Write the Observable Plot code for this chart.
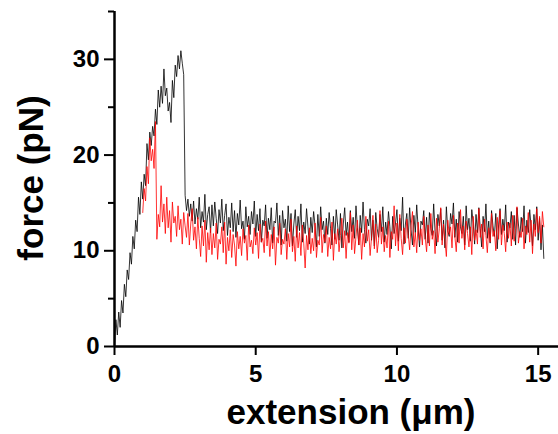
<!DOCTYPE html>
<html>
<head>
<meta charset="utf-8">
<script src="https://cdn.jsdelivr.net/npm/d3@7"></script>
<script src="https://cdn.jsdelivr.net/npm/@observablehq/plot@0.6"></script>
<style>
  html, body { margin: 0; padding: 0; background: #fff; }
  #chart { width: 558px; height: 434px; }
</style>
</head>
<body>
<div id="chart"></div>
<script>
// ---- data ----
const sampleStep = 0.05;      // µm between samples
const blackStartX = 0.0;
const redStartX = 1.0;

const blackForce = [
  0.0, 2.8, 1.2, 3.6, 2.0, 4.8, 3.5, 6.5, 5.2, 8.0,
  7.0, 9.8, 8.6, 11.5, 10.2, 13.2, 12.0, 15.6, 13.8, 17.2,
  15.4, 18.0, 16.8, 21.2, 19.5, 22.4, 21.0, 23.0, 22.0, 24.8,
  23.2, 26.8, 25.0, 27.2, 25.4, 29.0, 26.2, 27.0, 24.6, 25.5,
  23.4, 27.8, 26.0, 29.4, 28.2, 30.4, 29.0, 30.9, 29.6, 28.4,
  15.8, 14.2, 15.4, 13.6, 14.9, 13.1, 15.2, 12.8, 14.4, 13.3,
  15.6, 12.4, 14.1, 13.0, 15.9, 12.2, 13.8, 14.6, 11.9, 14.8,
  12.6, 15.1, 13.4, 11.8, 14.3, 12.9, 15.4, 12.1, 13.7, 14.9,
  11.6, 13.5, 12.4, 15.0, 12.0, 14.2, 11.4, 13.9, 12.7, 15.3,
  12.3, 13.1, 11.2, 14.6, 12.5, 13.6, 11.7, 14.1, 12.8, 15.2,
  11.5, 13.8, 12.1, 14.4, 10.9, 13.2, 12.6, 14.8, 11.3, 13.4,
  12.2, 14.5, 10.8, 13.1, 12.9, 15.0, 11.6, 13.7, 10.6, 14.2,
  12.4, 13.3, 11.0, 14.7, 12.0, 13.9, 10.5, 12.8, 14.3, 11.4,
  13.6, 12.1, 14.9, 10.9, 13.0, 11.8, 14.4, 12.5, 10.7, 13.5,
  11.9, 14.1, 12.6, 10.4, 13.8, 11.5, 14.6, 12.2, 13.1, 10.8,
  13.4, 11.7, 14.0, 12.3, 10.6, 13.6, 11.2, 14.3, 12.7, 11.1,
  13.9, 10.3, 12.8, 14.5, 11.6, 13.0, 10.9, 14.2, 12.0, 13.5,
  11.3, 14.7, 12.4, 10.6, 13.7, 11.9, 15.1, 12.2, 10.8, 13.3,
  12.6, 14.4, 11.1, 13.2, 10.5, 14.0, 12.3, 11.4, 13.8, 12.0,
  14.6, 10.9, 13.0, 11.7, 14.1, 12.5, 10.2, 13.6, 11.8, 12.9,
  14.3, 11.0, 13.4, 12.1, 15.6, 10.7, 12.8, 13.9, 11.3, 14.5,
  12.2, 10.6, 13.7, 11.9, 14.8, 12.4, 10.4, 13.1, 12.7, 14.2,
  11.2, 13.5, 10.8, 14.0, 12.3, 11.6, 14.9, 12.0, 10.5, 13.8,
  12.6, 14.4, 11.1, 13.2, 10.3, 14.6, 12.1, 11.5, 13.9, 12.8,
  15.0, 11.4, 13.3, 10.9, 14.1, 12.5, 11.8, 13.6, 10.6, 14.7,
  12.2, 13.4, 11.0, 14.3, 12.9, 10.7, 13.8, 11.9, 14.5, 12.3,
  10.4, 13.6, 12.0, 14.9, 11.3, 13.1, 10.8, 14.2, 12.6, 11.5,
  13.9, 10.2, 12.7, 14.4, 11.7, 13.3, 12.1, 14.8, 10.9, 13.0,
  12.4, 14.1, 11.2, 13.7, 10.6, 14.5, 12.8, 11.4, 13.5, 12.0,
  14.7, 10.8, 13.2, 11.9, 14.3, 12.5, 10.5, 13.8, 12.2, 14.6,
  11.1, 13.4, 10.1, 12.7, 9.2
];

const redForce = [
  14.0, 16.5, 15.2, 18.8, 17.0, 21.8, 19.4, 20.6, 18.6, 23.5,
  11.2, 13.8, 12.5, 16.8, 13.0, 14.9, 11.8, 15.6, 12.4, 14.2,
  10.9, 15.1, 12.9, 13.6, 11.5, 14.7, 12.2, 13.3, 10.7, 14.0,
  12.6, 11.4, 13.9, 10.6, 12.8, 14.4, 11.1, 12.5, 10.2, 13.5,
  11.3, 9.4, 12.6, 10.5, 13.2, 8.8, 11.9, 10.1, 12.4, 9.6,
  11.8, 10.3, 12.9, 9.1, 11.2, 10.7, 12.5, 9.8, 13.0, 8.6,
  11.4, 10.0, 12.2, 9.3, 11.7, 10.6, 8.4, 12.0, 10.2, 11.5,
  9.5, 12.3, 10.8, 11.6, 9.0, 12.7, 10.4, 11.1, 9.7, 12.4,
  10.6, 11.9, 9.2, 12.8, 10.9, 11.3, 9.8, 13.1, 10.5, 12.0,
  9.4, 11.7, 10.2, 12.5, 8.5, 11.4, 10.8, 12.9, 9.6, 11.2,
  10.7, 12.3, 9.1, 11.8, 10.4, 13.3, 9.9, 11.5, 8.9, 12.6,
  10.3, 11.9, 9.5, 12.7, 10.8, 8.2, 11.6, 10.1, 12.4, 9.7,
  11.3, 10.0, 12.9, 9.3, 11.1, 10.6, 13.5, 9.8, 11.7, 10.9,
  12.6, 9.4, 11.4, 10.2, 13.0, 9.0, 11.8, 10.7, 12.3, 9.9,
  11.6, 13.4, 10.3, 12.1, 9.2, 11.9, 10.8, 14.0, 10.1, 12.7,
  9.7, 11.5, 13.2, 10.6, 12.4, 9.1, 11.8, 10.4, 13.6, 11.0,
  12.2, 9.5, 11.4, 13.7, 10.2, 12.8, 9.8, 11.1, 14.2, 10.7,
  12.5, 9.9, 11.6, 10.3, 13.1, 9.3, 12.0, 11.2, 14.7, 10.5,
  12.9, 10.0, 13.8, 11.3, 9.6, 12.4, 10.8, 13.3, 11.7, 10.1,
  12.6, 14.1, 10.4, 11.9, 9.8, 13.0, 11.1, 12.3, 10.6, 13.6,
  11.4, 9.9, 12.7, 10.5, 13.9, 11.2, 12.1, 9.7, 13.4, 10.9,
  12.3, 14.5, 10.6, 12.8, 11.0, 9.4, 13.2, 11.7, 12.5, 10.3,
  13.7, 11.5, 9.9, 12.9, 10.8, 14.3, 11.3, 12.6, 10.1, 13.1,
  11.8, 10.4, 12.5, 9.6, 13.6, 11.1, 12.2, 10.7, 14.4, 11.4,
  12.8, 10.2, 13.3, 11.6, 9.8, 12.4, 10.9, 13.9, 11.5, 12.1,
  10.0, 13.5, 11.2, 14.2, 10.6, 12.7, 11.8, 9.9, 13.0, 11.3,
  12.9, 10.5, 13.7, 11.0, 12.3, 14.6, 10.8, 12.0, 11.4, 13.4,
  10.2, 12.6, 11.7, 14.0, 10.9, 13.2, 9.7, 12.8, 11.5, 14.4,
  11.9, 13.6, 10.8, 14.1, 12.5
];

const xTicks = [0, 5, 10, 15];
const yMajorTicks = [0, 10, 20, 30];
const yMinorTicks = [5, 15, 25, 35];
const xDomain = [0, 15.72];
const yDomain = [0, 35];
const xLabel = "extension (μm)";
const yLabel = "force (pN)";

// ---- build tables ----
const black = blackForce.map((f, i) => ({x: +(blackStartX + i * sampleStep).toFixed(3), f}));
const red = redForce.map((f, i) => ({x: +(redStartX + i * sampleStep).toFixed(3), f}));

const FONT = "'Liberation Sans', Arial, Helvetica, sans-serif";

const chart = Plot.plot({
  width: 558,
  height: 434,
  marginLeft: 114,
  marginRight: 0,
  marginTop: 11,
  marginBottom: 88,
  style: {fontFamily: FONT, fontSize: "24px", fontWeight: "bold", background: "#fff", overflow: "visible"},
  x: {domain: xDomain, label: null},
  y: {domain: yDomain, label: null},
  marks: [
    Plot.line(black, {x: "x", y: "f", stroke: "#000", strokeWidth: 0.8}),
    Plot.line(red, {x: "x", y: "f", stroke: "#ff0000", strokeWidth: 0.8}),
    Plot.ruleY([0], {stroke: "#000", strokeWidth: 2.5}),
    Plot.ruleX([0], {y1: 0, y2: 35, stroke: "#000", strokeWidth: 2.5}),
    Plot.axisX({ticks: xTicks, tickSize: 9, tickPadding: 9, tickFormat: d => String(d), strokeWidth: 2, label: null, fontSize: 24, fontWeight: "bold"}),
    Plot.axisY({ticks: yMajorTicks, tickSize: 10, tickPadding: 5, tickFormat: d => String(d), strokeWidth: 2, label: null, fontSize: 24, fontWeight: "bold"}),
    Plot.axisY({ticks: yMinorTicks, tickSize: 6, tickFormat: () => "", strokeWidth: 2, label: null})
  ]
});

const svg = d3.select(chart);
svg.append("text")
  .attr("x", 351)
  .attr("y", 424)
  .attr("text-anchor", "middle")
  .style("font-family", FONT)
  .style("font-size", "35px")
  .style("font-weight", "bold")
  .attr("fill", "#000")
  .text(xLabel);
svg.append("text")
  .attr("transform", "translate(43,178) rotate(-90)")
  .attr("text-anchor", "middle")
  .style("font-family", FONT)
  .style("font-size", "35px")
  .style("font-weight", "bold")
  .attr("fill", "#000")
  .text(yLabel);

document.getElementById("chart").appendChild(chart);
</script>
</body>
</html>
